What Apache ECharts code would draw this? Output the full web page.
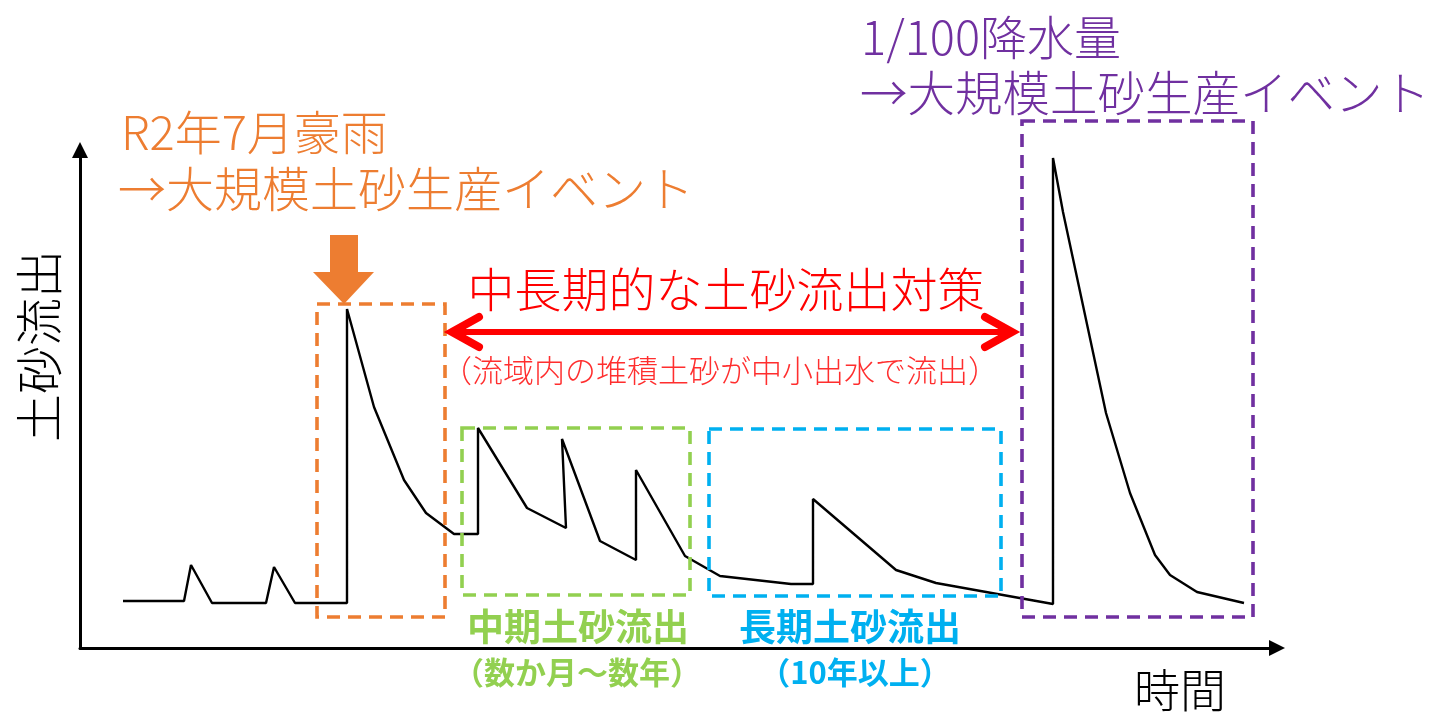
<!DOCTYPE html>
<html><head><meta charset="utf-8">
<script src="https://cdn.jsdelivr.net/npm/echarts@6/dist/echarts.min.js"></script>
<style>html,body{margin:0;padding:0;background:#fff}#c{width:1433px;height:714px}</style>
</head><body><div id="c"></div>
<script>
// time (arbitrary units) and sediment outflow (arbitrary units)
const timeValues = [43,104,111,132,186,194,215,267,267,294,324,346,374,398,398,447,486,482,520,556,556,605,640,711,733,733,816,856,973,973,983,1026,1050,1075,1090,1117,1164];
const sedimentValues = [47,47,83,45,45,81,45,45,339,241,168,135,114,114,220,140,120,209,107,88,178,92,72,64,64,149,78,65,44,490,436,235,155,93,73,56,45];
// annotation zones (time range, sediment range)
const zoneColors = ['#ED7D31','#92D050','#00B0F0','#7030A0'];
const zoneTime = [[237,365],[382,610],[629,921],[942,1173]];
const zoneSediment = [[31,344],[53,220],[52,219],[31,527]];
const axisMax = {time: 1197, sediment: 498};

const FONT = '"Noto Sans CJK JP", "Noto Sans", sans-serif';
const chart = echarts.init(document.getElementById('c'));
const axisCommon = {
  type: 'value', min: 0,
  axisLine: {show: true, symbol: ['none','triangle'], symbolSize: [16,16], lineStyle: {color: '#000', width: 3}},
  axisTick: {show: false}, axisLabel: {show: false}, splitLine: {show: false}
};
chart.setOption({
  animation: false,
  backgroundColor: '#fff',
  grid: {left: 80, right: 156, top: 150, bottom: 66, containLabel: false},
  xAxis: Object.assign({}, axisCommon, {max: axisMax.time}),
  yAxis: Object.assign({}, axisCommon, {max: axisMax.sediment}),
  series: [{
    type: 'line', clip: false, showSymbol: false, symbol: 'none',
    lineStyle: {color: '#000', width: 2.4},
    data: timeValues.map((t, i) => [t, sedimentValues[i]])
  }]
});

const g = [];
zoneTime.forEach((tr, i) => {
  const p1 = chart.convertToPixel({gridIndex: 0}, [tr[0], zoneSediment[i][1]]);
  const p2 = chart.convertToPixel({gridIndex: 0}, [tr[1], zoneSediment[i][0]]);
  g.push({type: 'rect', z: 5, shape: {x: p1[0], y: p1[1], width: p2[0]-p1[0], height: p2[1]-p1[1]},
    style: {fill: 'none', stroke: zoneColors[i], lineWidth: 3.6, lineDash: [13, 8]}});
});
function txt(x, y, text, size, color, align, weight, rot) {
  g.push({type: 'text', x: x, y: y, rotation: rot || 0, z: 10,
    style: {text: text, fontSize: size, fontFamily: FONT, fontWeight: weight || 300, fill: color, align: align || 'left', verticalAlign: 'middle'}});
}
txt(121, 132, 'R2年7月豪雨', 47, '#ED7D31');
txt(118, 189, '→大規模土砂生産イベント', 48, '#ED7D31');
txt(861, 37, '1/100降水量', 47, '#7030A0');
txt(860, 93, '→大規模土砂生産イベント', 47.5, '#7030A0');
txt(726, 289, '中長期的な土砂流出対策', 47, '#FF0000', 'center');
txt(720, 370, '（流域内の堆積土砂が中小出水で流出）', 31, '#FF2E2E', 'center');
txt(578, 627, '中期土砂流出', 37, '#92D050', 'center', 'bold');
txt(577, 672, '（数か月～数年）', 31, '#92D050', 'center', 'bold');
txt(850, 627, '長期土砂流出', 37, '#00B0F0', 'center', 'bold');
txt(855, 672, '（10年以上）', 31, '#00B0F0', 'center', 'bold');
txt(39, 346, '土砂流出', 48, '#000', 'center', 300, Math.PI/2);
txt(1180, 690, '時間', 46, '#000', 'center');
// orange block arrow
g.push({type: 'polygon', z: 10, shape: {points: [[330,235],[358,235],[358,272],[374,272],[344,304],[313,272],[330,272]]}, style: {fill: '#ED7D31'}});
// red double arrow
g.push({type: 'line', z: 10, shape: {x1: 456, y1: 332, x2: 1008, y2: 332}, style: {stroke: '#FF0000', lineWidth: 6}});
g.push({type: 'polyline', z: 10, shape: {points: [[479,317],[452,332],[479,347]]}, style: {stroke: '#FF0000', lineWidth: 8, lineCap: 'round', lineJoin: 'miter', fill: 'none'}});
g.push({type: 'polyline', z: 10, shape: {points: [[985,317],[1012,332],[985,347]]}, style: {stroke: '#FF0000', lineWidth: 8, lineCap: 'round', lineJoin: 'miter', fill: 'none'}});
chart.setOption({graphic: g});
</script></body></html>
